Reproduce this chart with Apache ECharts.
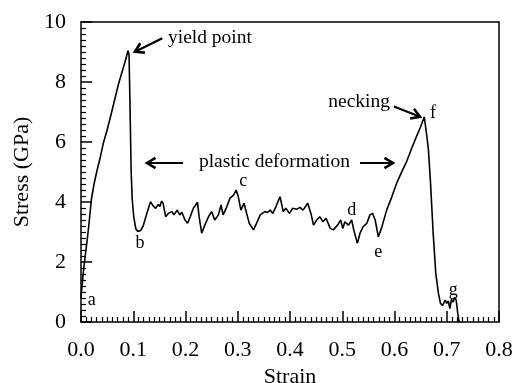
<!DOCTYPE html>
<html>
<head>
<meta charset="utf-8">
<script src="https://cdn.jsdelivr.net/npm/echarts@6/dist/echarts.min.js"></script>
<style>
html,body{margin:0;padding:0;background:#fff;}
#c{width:515px;height:383px;}
</style>
</head>
<body>
<div id="c"></div>
<script>
var strain = [0.000,0.002,0.005,0.008,0.012,0.016,0.020,0.025,0.030,0.037,0.043,0.050,0.058,0.065,0.072,0.078,0.084,0.090,0.092,0.094,0.096,0.098,0.101,0.105,0.109,0.114,0.119,0.126,0.133,0.138,0.143,0.148,0.151,0.154,0.157,0.162,0.167,0.174,0.178,0.184,0.189,0.193,0.199,0.204,0.209,0.215,0.223,0.226,0.231,0.237,0.244,0.250,0.256,0.263,0.268,0.272,0.279,0.285,0.292,0.297,0.301,0.306,0.312,0.317,0.322,0.330,0.336,0.343,0.352,0.357,0.362,0.367,0.373,0.381,0.387,0.392,0.399,0.405,0.413,0.419,0.425,0.434,0.440,0.445,0.451,0.457,0.463,0.469,0.477,0.483,0.491,0.497,0.501,0.505,0.512,0.518,0.522,0.529,0.534,0.540,0.547,0.553,0.558,0.563,0.569,0.575,0.585,0.595,0.604,0.614,0.623,0.633,0.642,0.650,0.657,0.662,0.665,0.669,0.674,0.679,0.684,0.688,0.692,0.697,0.700,0.703,0.706,0.709,0.712,0.715,0.718,0.721,0.723,0.726];
var stress = [0.80,1.20,1.75,2.20,2.75,3.40,4.10,4.60,5.00,5.50,5.98,6.40,6.95,7.45,7.95,8.30,8.65,9.04,8.90,7.00,5.00,4.10,3.50,3.10,3.02,3.05,3.20,3.62,4.01,3.87,3.79,3.92,3.85,4.03,3.96,3.51,3.62,3.68,3.57,3.73,3.57,3.66,3.40,3.29,3.51,3.79,3.99,3.51,2.96,3.23,3.51,3.68,3.40,3.57,3.90,3.57,3.84,4.12,4.23,4.40,4.18,3.73,3.96,3.62,3.29,3.07,3.29,3.57,3.68,3.65,3.73,3.62,3.84,4.18,3.68,3.79,3.62,3.79,3.76,3.82,3.73,3.96,3.62,3.23,3.40,3.51,3.34,3.46,3.12,3.07,3.23,3.40,3.12,3.34,3.23,3.40,3.07,2.62,2.96,3.18,3.29,3.57,3.62,3.40,2.84,3.12,3.73,4.18,4.62,5.01,5.34,5.79,6.18,6.51,6.84,6.18,5.73,4.62,2.96,1.62,0.96,0.62,0.55,0.73,0.62,0.70,0.45,0.75,0.66,0.82,0.73,0.30,0.05,0.00];
var xTicks = [0,0.1,0.2,0.3,0.4,0.5,0.6,0.7,0.8];
var yTicks = [0,2,4,6,8,10];
var xTitle = 'Strain';
var yTitle = 'Stress (GPa)';
// annotation texts and anchors (data coordinates)
var pointLabels = ['a','b','c','d','e','f','g'];
var pointLabelX = [0.0205,0.113,0.3106,0.518,0.569,0.6737,0.7126];
var pointLabelY = [0.73,2.62,4.68,3.73,2.34,6.97,1.07];
var noteTexts = ['yield point','plastic deformation','necking'];
var noteX = [0.1665,0.3703,0.5914];
var noteY = [9.46,5.35,7.34];
var noteAlign = ['left','center','right'];
var arrowFrom = [[0.1556,9.46],[0.1952,5.30],[0.534,5.30],[0.599,7.18]];
var arrowTo = [[0.1033,9.01],[0.1263,5.30],[0.597,5.30],[0.6488,6.84]];

var FONT = "'Liberation Serif','Times New Roman',serif";
var chart = echarts.init(document.getElementById('c'), null, {renderer:'canvas'});
var data = strain.map(function(x,i){return [x, stress[i]];});

var textItems = [];
pointLabels.forEach(function(t,i){ textItems.push([pointLabelX[i], pointLabelY[i], i]); });
noteTexts.forEach(function(t,i){ textItems.push([noteX[i], noteY[i], pointLabels.length + i]); });
var arrowItems = arrowFrom.map(function(f,i){ return [f[0], f[1], arrowTo[i][0], arrowTo[i][1]]; });

function mainAxis(extra){
  var a = {type:'value',
    axisLine:{show:true,onZero:false,lineStyle:{color:'#000',width:1.5}},
    axisTick:{show:true,inside:true,length:11,lineStyle:{color:'#000',width:1.5}},
    minorTick:{show:true,splitNumber:10,length:5,lineStyle:{color:'#000',width:1.2}},
    splitLine:{show:false},minorSplitLine:{show:false}};
  for (var k in extra) a[k]=extra[k];
  return a;
}
function boxAxis(pos,min,max,interval){
  return {type:'value',position:pos,min:min,max:max,interval:interval,
    axisLine:{show:true,onZero:false,lineStyle:{color:'#000',width:1.5}},
    axisTick:{show:false},minorTick:{show:false},axisLabel:{show:false},
    splitLine:{show:false}};
}
chart.setOption({
  animation:false,
  grid:{left:81,right:16,top:22,bottom:61,containLabel:false,outerBoundsMode:'none'},
  xAxis:[mainAxis({position:'bottom',min:xTicks[0],max:xTicks[xTicks.length-1],interval:0.1,
    name:xTitle,nameLocation:'middle',nameGap:41,
    nameTextStyle:{fontFamily:FONT,fontSize:22,color:'#000'},
    axisLabel:{fontFamily:FONT,fontSize:22,color:'#000',margin:17,formatter:function(v){return v.toFixed(1);}}}),
    boxAxis('top',xTicks[0],xTicks[xTicks.length-1],0.1)],
  yAxis:[mainAxis({position:'left',min:yTicks[0],max:yTicks[yTicks.length-1],interval:2,
    name:yTitle,nameLocation:'middle',nameGap:44,nameRotate:90,
    nameTextStyle:{fontFamily:FONT,fontSize:22,color:'#000'},
    axisLabel:{fontFamily:FONT,fontSize:22,color:'#000',margin:15}}),
    boxAxis('right',yTicks[0],yTicks[yTicks.length-1],2)],
  series:[
    {type:'line',xAxisIndex:0,yAxisIndex:0,data:data,showSymbol:false,symbol:'none',
     lineStyle:{color:'#000',width:1.6},silent:true},
    {type:'custom',xAxisIndex:0,yAxisIndex:0,clip:false,silent:true,
     data:textItems,encode:{x:0,y:1},
     renderItem:function(params, api){
       var p = api.coord([api.value(0), api.value(1)]);
       var idx = api.value(2);
       var isPoint = idx < pointLabels.length;
       var txt = isPoint ? pointLabels[idx] : noteTexts[idx - pointLabels.length];
       var align = isPoint ? 'center' : noteAlign[idx - pointLabels.length];
       return {type:'text',x:p[0],y:p[1],
         style:{text:txt,fontFamily:FONT,fontSize:isPoint?18:19.5,fill:'#000',align:align,verticalAlign:'middle'}};
     }},
    {type:'custom',xAxisIndex:0,yAxisIndex:0,clip:false,silent:true,
     data:arrowItems,encode:{x:[0,2],y:[1,3]},
     renderItem:function(params, api){
       var a = api.coord([api.value(0), api.value(1)]);
       var b = api.coord([api.value(2), api.value(3)]);
       var ang = Math.atan2(b[1]-a[1], b[0]-a[0]);
       var L = 10, w = 0.55;
       var h1 = [b[0]-L*Math.cos(ang-w), b[1]-L*Math.sin(ang-w)];
       var h2 = [b[0]-L*Math.cos(ang+w), b[1]-L*Math.sin(ang+w)];
       return {type:'group',children:[
         {type:'polyline',shape:{points:[a,b]},style:{stroke:'#000',lineWidth:2.2,fill:null}},
         {type:'polyline',shape:{points:[h1,b,h2]},style:{stroke:'#000',lineWidth:2.6,fill:null,lineJoin:'miter'}}
       ]};
     }}
  ]
});
</script>
</body>
</html>
